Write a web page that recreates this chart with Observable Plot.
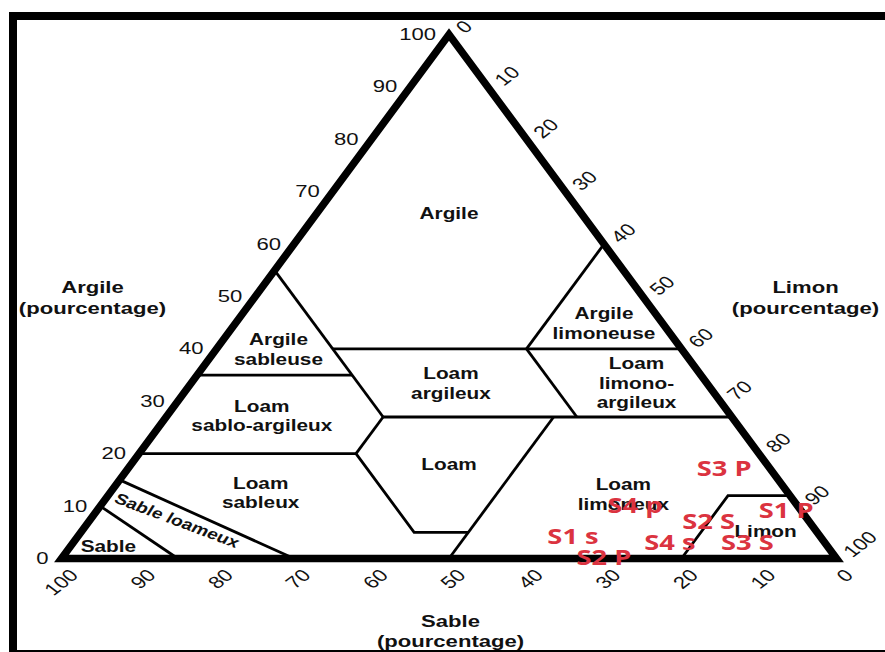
<!DOCTYPE html>
<html>
<head>
<meta charset="utf-8">
<script src="https://cdn.jsdelivr.net/npm/d3@7"></script>
<script src="https://cdn.jsdelivr.net/npm/@observablehq/plot@0.6"></script>
<style>
  html, body { margin: 0; padding: 0; background: #fff; overflow: hidden; }
  #chart { position: relative; width: 885px; height: 652px; overflow: hidden; background: #fff; }
  #frame { position: absolute; left: 9px; top: 12px; width: 900px; height: 630px;
           border-top: 8px solid #000; border-left: 8px solid #000; border-bottom: 2px solid #000; }
  #chart svg { position: absolute; left: 0; top: 0; }
</style>
</head>
<body>
<div id="chart"><div id="frame"></div></div>
<script>
// Percent ticks shared by the three sides
const ticks = [0, 10, 20, 30, 40, 50, 60, 70, 80, 90, 100];

// Texture class boundaries, each as a polyline of [sand %, clay %] vertices
const boundaryNames = ["sable", "sable loameux", "argile 20", "loam gauche", "limon 50",
  "limon 28", "argile 27", "argile 35", "sable 45", "argile 40", "sable 20", "limon 40", "limon"];
const boundaryPoints = [
  [[90, 10], [85, 0]],
  [[85, 15], [70, 0]],
  [[80, 20], [52, 20]],
  [[52, 20], [52, 5], [45, 5]],
  [[50, 0], [23, 27]],
  [[52, 20], [45, 27]],
  [[45, 27], [0, 27]],
  [[65, 35], [45, 35]],
  [[45, 55], [45, 27]],
  [[45, 40], [0, 40]],
  [[20, 40], [20, 27]],
  [[20, 40], [0, 60]],
  [[20, 0], [8, 12], [0, 12]]
];

// Class names and the [sand %, clay %] spot where each name sits
const regionLabels = ["Argile", "Argile\nsableuse", "Argile\nlimoneuse", "Loam\nargileux",
  "Loam\nlimono-\nargileux", "Loam\nsablo-argileux", "Loam", "Loam\nsableux",
  "Sable", "Loam\nlimoneux", "Limon"];
const regionSand = [17, 52, 7.5, 33, 9, 60.5, 41, 68, 92.7, 21.3, 6.5];
const regionClay = [66, 40, 45, 33.5, 33.6, 27.3, 18, 12.6, 2.5, 12.4, 5.3];

// Soil samples (sand / silt / clay, %)
const sampleNames = ["S1 s", "S2 P", "S3 P", "S4 p", "S1 P", "S2 S", "S3 S", "S4 s"];
const sampleSand = [32, 30, 6, 21, 2, 13, 10, 20];
const sampleSilt = [64, 70, 77, 69, 89, 80, 87, 77];
const sampleClay = [4, 0, 17, 10, 9, 7, 3, 3];

// Ternary -> plane: x runs with silt (plus half the clay), y with clay
const tern = (sand, clay) => ({x: 100 - sand - clay / 2, y: clay});

const outline = [tern(100, 0), tern(0, 0), tern(0, 100)];
const segments = boundaryPoints.flatMap((pts, k) =>
  pts.map(([s, c]) => ({...tern(s, c), id: boundaryNames[k]})));
const regions = regionLabels.map((label, i) => ({...tern(regionSand[i], regionClay[i]), label}));
const samples = sampleNames.map((label, i) =>
  ({...tern(sampleSand[i], sampleClay[i]), label, silt: sampleSilt[i]}));

const clayTicks = ticks.map(c => ({...tern(100 - c, c), label: String(c)}));
const sandTicks = ticks.map(s => ({...tern(s, 0), label: String(s)}));
const siltTicks = ticks.map(t => ({...tern(0, 100 - t), label: String(t)}));

const sans = "Liberation Sans, Arial, Helvetica, sans-serif";

const svg = Plot.plot({
  width: 885,
  height: 652,
  marginLeft: 61,
  marginRight: 49,
  marginTop: 34,
  marginBottom: 94,
  x: {domain: [0, 100], axis: null},
  y: {domain: [0, 100], axis: null},
  style: {background: "transparent", fontFamily: sans},
  marks: [
    Plot.line(segments, {x: "x", y: "y", z: "id", stroke: "#000", strokeWidth: 2.8,
      strokeLinecap: "butt", strokeLinejoin: "miter", strokeMiterlimit: 10}),
    Plot.line(outline, {x: "x", y: "y", curve: "linear-closed", stroke: "#000", strokeWidth: 7.5,
      strokeLinejoin: "miter", strokeMiterlimit: 10}),
    Plot.text(regions, {x: "x", y: "y", text: "label",
      fontFamily: sans, fontWeight: "bold", fontSize: 16, lineHeight: 1.22, fill: "#111"}),
    // Loamy sand band is narrow and slanted: its name follows the band
    Plot.text([tern(81.5, 7.2)], {x: "x", y: "y", text: ["Sable loameux"], rotate: 26,
      fontFamily: sans, fontWeight: "bold", fontSize: 15, fill: "#111"}),
    // Clay scale on the left side
    Plot.text(clayTicks, {x: "x", y: "y", text: "label", textAnchor: "end", dx: -13, dy: 0,
      fontFamily: sans, fontSize: 17, fill: "#111"}),
    // Sand scale along the base
    Plot.text(sandTicks, {x: "x", y: "y", text: "label", textAnchor: "end", rotate: -45, dx: 13, dy: 14,
      fontFamily: sans, fontSize: 17, fill: "#111"}),
    // Silt scale on the right side
    Plot.text(siltTicks, {x: "x", y: "y", text: "label", textAnchor: "start", rotate: -45, dx: 11, dy: -4,
      fontFamily: sans, fontSize: 17, fill: "#111"}),
    // Side titles
    Plot.text(["Argile\n(pourcentage)"], {x: 4, y: 50, fontFamily: sans, fontWeight: "bold",
      fontSize: 17, lineHeight: 1.22, fill: "#111"}),
    Plot.text(["Limon\n(pourcentage)"], {x: 96, y: 50, fontFamily: sans, fontWeight: "bold",
      fontSize: 17, lineHeight: 1.22, fill: "#111"}),
    Plot.text(["Sable\n(pourcentage)"], {x: 50.2, y: -13.7, fontFamily: sans, fontWeight: "bold",
      fontSize: 17, lineHeight: 1.18, fill: "#111"}),
    // Samples
    Plot.text(samples, {x: "x", y: "y", text: "label", fontFamily: "Open Sans, sans-serif",
      fontWeight: "bold", fontSize: 21, fill: "#db3340"})
  ]
});

// Text in this diagram is set wide: stretch each label horizontally about its anchor
d3.select(svg).selectAll("text").each(function() {
  const t = this.getAttribute("transform");
  if (t) this.setAttribute("transform", t.replace(/^(translate\([^)]*\))/, "$1 scale(1.3,1)"));
});

document.getElementById("chart").appendChild(svg);
d3.select("#frame").raise();
</script>
</body>
</html>
